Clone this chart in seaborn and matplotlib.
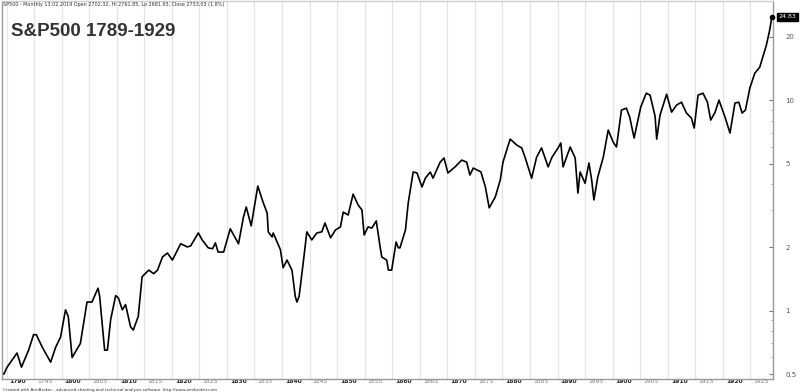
import numpy as np
import pandas as pd
import matplotlib
matplotlib.use("Agg")
import matplotlib.pyplot as plt
import matplotlib.ticker as mticker
from matplotlib.transforms import ScaledTranslation, blended_transform_factory
import seaborn as sns

years = [1789.5, 1790.1, 1791.9, 1792.7, 1793.5, 1794.0, 1794.9, 1795.4, 1796.5, 1798.0,
         1798.9, 1799.8, 1800.7, 1801.2, 1801.9, 1803.4, 1804.6, 1805.5, 1806.6, 1806.9,
         1807.8, 1808.3, 1808.9, 1809.8, 1810.3, 1811.0, 1811.6, 1812.5, 1813.0, 1813.9,
         1814.6, 1815.8, 1816.7, 1817.4, 1818.3, 1819.2, 1820.1, 1821.6, 1822.8, 1823.4,
         1824.8, 1825.5, 1826.6, 1827.4, 1827.9, 1828.4, 1829.4, 1830.6, 1832.1, 1833.0,
         1833.5, 1834.4, 1835.6, 1836.6, 1837.3, 1837.5, 1838.2, 1838.4, 1839.7, 1840.2,
         1840.9, 1841.8, 1842.4, 1842.7, 1843.1, 1843.9, 1844.5, 1845.4, 1846.3, 1847.2,
         1847.8, 1848.8, 1849.7, 1850.6, 1851.1, 1852.0, 1852.9, 1853.8, 1854.5, 1854.9,
         1855.6, 1856.3, 1857.1, 1857.8, 1858.1, 1859.0, 1859.3, 1859.9, 1860.7, 1861.1,
         1861.4, 1862.4, 1862.9, 1863.8, 1864.5, 1865.4, 1866.0, 1866.9, 1867.4, 1868.7,
         1869.4, 1870.1, 1871.4, 1872.6, 1873.5, 1874.1, 1874.7, 1876.1, 1876.9, 1877.6,
         1878.7, 1879.6, 1880.1, 1881.4, 1882.6, 1883.5, 1884.1, 1885.3, 1886.2, 1887.1,
         1888.3, 1889.0, 1890.1, 1890.6, 1891.0, 1892.3, 1893.2, 1893.7, 1894.1, 1895.0,
         1895.7, 1896.2, 1896.6, 1897.3, 1898.3, 1899.2, 1900.1, 1900.7, 1901.6, 1902.5,
         1903.1, 1903.9, 1905.1, 1906.1, 1906.8, 1907.7, 1908.0, 1908.6, 1909.8, 1910.7,
         1911.6, 1912.5, 1913.4, 1914.3, 1914.8, 1915.5, 1916.4, 1917.2, 1917.8, 1918.6,
         1919.3, 1920.4, 1921.3, 1922.2, 1922.9, 1923.5, 1924.1, 1924.9, 1925.8, 1926.7,
         1927.9, 1928.5, 1928.9]

values = [0.50, 0.54, 0.63, 0.54, 0.605, 0.65, 0.77, 0.77, 0.67, 0.57,
          0.67, 0.75, 1.01, 0.94, 0.60, 0.70, 1.10, 1.10, 1.28, 1.17,
          0.65, 0.65, 0.91, 1.18, 1.15, 1.01, 1.07, 0.84, 0.81, 0.94,
          1.45, 1.56, 1.50, 1.56, 1.80, 1.88, 1.74, 2.08, 2.01, 2.03,
          2.34, 2.17, 1.99, 1.97, 2.10, 1.90, 1.90, 2.45, 2.08, 2.79,
          3.11, 2.53, 3.91, 3.25, 2.91, 2.37, 2.24, 2.34, 1.95, 1.60,
          1.74, 1.56, 1.17, 1.10, 1.17, 1.74, 2.37, 2.17, 2.34, 2.37,
          2.61, 2.22, 2.42, 2.50, 2.94, 2.85, 3.58, 3.18, 3.01, 2.29,
          2.50, 2.47, 2.67, 2.01, 1.80, 1.74, 1.56, 1.56, 2.12, 1.99,
          1.99, 2.42, 3.25, 4.56, 4.51, 3.87, 4.26, 4.56, 4.26, 5.08,
          5.31, 4.51, 4.82, 5.19, 5.08, 4.41, 4.76, 4.56, 3.87, 3.08,
          3.47, 4.17, 5.08, 6.53, 6.12, 5.93, 5.36, 4.26, 5.36, 5.93,
          4.82, 5.36, 5.93, 6.26, 4.82, 5.99, 5.31, 3.62, 4.56, 4.03,
          5.03, 4.17, 3.36, 4.31, 5.36, 7.21, 6.32, 5.99, 8.97, 9.16,
          8.30, 6.61, 9.27, 10.79, 10.56, 8.40, 6.53, 8.49, 10.67, 8.77,
          9.47, 9.78, 8.68, 8.22, 7.37, 10.56, 10.79, 9.78, 8.04, 8.77,
          10.0, 8.30, 6.98, 9.68, 9.78, 8.68, 8.97, 11.40, 13.42, 14.34,
          18.23, 21.47, 24.83]

year_ticks = list(range(1790, 1926, 5))
year_labels = [str(y) for y in year_ticks]
value_ticks = [0.5, 1, 2, 5, 10, 20]
value_labels = ["0.5", "1", "2", "5", "10", "20"]
title = "S&P500 1789-1929"
header = "SP500 - Monthly 13.02.2019 Open 2702.32, Hi 2761.85, Lo 2681.93, Close 2753.03 (1.8%)"
footer = "Created with AmiBroker - advanced charting and technical analysis software. http://www.amibroker.com"
last_label = "24.83"

df = pd.DataFrame({"year": years, "value": values})

sns.set_style("white")
plt.rcParams["font.family"] = ["DejaVu Sans"]

fig = plt.figure(figsize=(8.0, 3.92), dpi=100)
ax = fig.add_axes([0.002, 0.034, 0.964, 0.963])

for yt in year_ticks:
    ax.axvline(yt, color="#e4e4e4", lw=0.9, zorder=0)

sns.lineplot(data=df, x="year", y="value", color="black", lw=1.2, ax=ax, zorder=3)
ax.set_yscale("log")
ax.set_xlim(1789.1, 1929.07)
ax.set_ylim(0.476, 29.5)
ax.set_xlabel("")
ax.set_ylabel("")

for s in ax.spines.values():
    s.set_color("#9a9a9a")
    s.set_linewidth(1.0)
ax.spines["top"].set_color("#cfcfcf")

# x ticks
ax.set_xticks(year_ticks)
ax.set_xticklabels(year_labels)
ax.tick_params(axis="x", direction="out", length=2.5, width=0.6, color="#777777",
               labelsize=4.3, pad=-2.2)
offs = ScaledTranslation(2.2 / 72, 0, fig.dpi_scale_trans)
for yt, lab in zip(year_ticks, ax.get_xticklabels()):
    lab.set_horizontalalignment("left")
    lab.set_transform(lab.get_transform() + offs)
    if yt % 10 == 0:
        lab.set_fontweight("bold")
        lab.set_color("#222222")
    else:
        lab.set_color("#777777")

# y ticks on right
ax.yaxis.tick_right()
ax.set_yticks(value_ticks)
ax.set_yticklabels(value_labels)
ax.yaxis.set_minor_locator(mticker.LogLocator(base=10, subs=np.arange(2, 10)))
ax.yaxis.set_minor_formatter(mticker.NullFormatter())
ax.tick_params(axis="y", which="major", direction="in", length=3, width=0.8,
               color="#777777", labelsize=5, labelcolor="#555555", pad=9)
ax.tick_params(axis="y", which="minor", direction="in", length=1.5, width=0.6,
               color="#999999", right=True)

# title and texts
ax.text(0.012, 0.92, title, transform=ax.transAxes, fontsize=13.5,
        fontweight="bold", color="#333333", family=["Liberation Sans", "DejaVu Sans"],
        va="center", ha="left")
fig.text(0.004, 0.996, header, fontsize=3.5, color="#333333", va="top", ha="left")
fig.text(0.004, 0.001, footer, fontsize=3.0, color="#333333", va="bottom", ha="left")

# last value label
tr = blended_transform_factory(ax.transAxes, ax.transData)
ax.text(1.008, values[-1], last_label, transform=tr, fontsize=4.6, color="white",
        va="center", ha="left", clip_on=False,
        bbox=dict(boxstyle="square,pad=0.25", fc="black", ec="black"))
ax.plot([years[-1]], [values[-1]], marker="o", ms=3, color="black", zorder=4,
        clip_on=False)

fig.savefig("out.png", dpi=100)
